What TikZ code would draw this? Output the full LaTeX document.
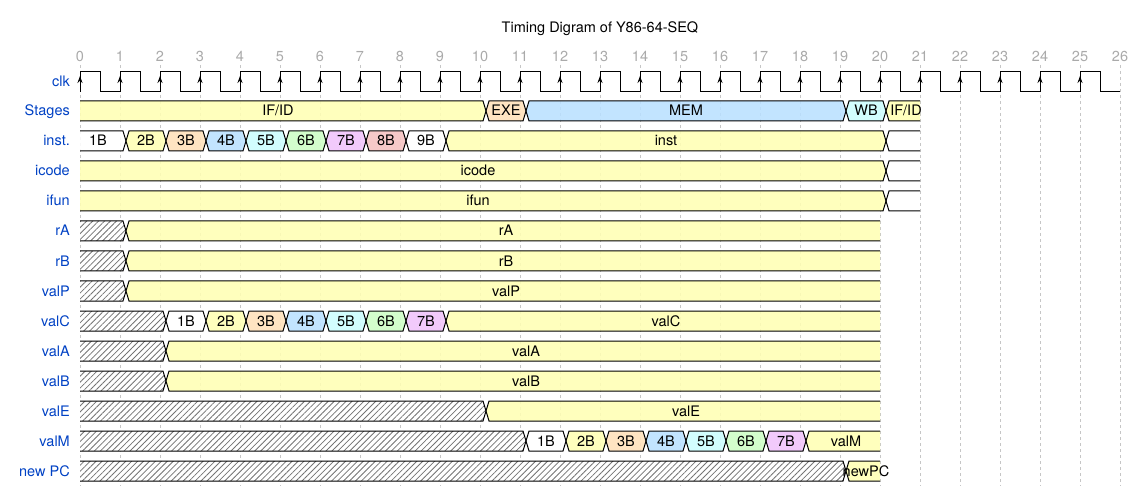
\documentclass[tikz,border=0pt]{standalone}
\usepackage{fontspec}
\setmainfont{TeX Gyre Heros}
\usetikzlibrary{arrows.meta,patterns.meta}

\definecolor{wyel}{HTML}{FFFFB4}
\definecolor{wora}{HTML}{FFE0B9}
\definecolor{wblu}{HTML}{B9E0FF}
\definecolor{wcya}{HTML}{CCFDFE}
\definecolor{wgre}{HTML}{CDFDC5}
\definecolor{wpur}{HTML}{F0C3FB}
\definecolor{wred}{HTML}{F5C2C0}
\definecolor{signame}{HTML}{0041C4}
\definecolor{tickgray}{HTML}{AAAAAA}

% row, from, to, colour (first brick, flat left end)
\newcommand{\wfirst}[6]{%
  \fill[#5,wfill] ({80+40*#3},{#2-10}) -- ({83+40*#4},{#2-10}) -- ({86+40*#4},#2) -- ({83+40*#4},{#2+10}) -- ({80+40*#3},{#2+10}) -- cycle;
  \draw[wline] ({80+40*#3},{#2-10}) -- ({83+40*#4},{#2-10}) -- ({86+40*#4},#2) -- ({83+40*#4},{#2+10}) -- ({80+40*#3},{#2+10});
  \node[wtext] (#1) at ({78+20*(#3+#4)},{#2+5}) {#6};
}
\newcommand{\wmid}[6]{%
  \draw[wline,fill=#5,wfill] ({89+40*#3},{#2-10}) -- ({83+40*#4},{#2-10}) -- ({86+40*#4},#2) -- ({83+40*#4},{#2+10}) -- ({89+40*#3},{#2+10}) -- ({86+40*#3},#2) -- cycle;
  \node[wtext] (#1) at ({86+20*(#3+#4)},{#2+5}) {#6};
}
\newcommand{\wlast}[6]{%
  \fill[#5,wfill] ({89+40*#3},{#2-10}) -- ({80+40*#4},{#2-10}) -- ({80+40*#4},{#2+10}) -- ({89+40*#3},{#2+10}) -- ({86+40*#3},#2) -- cycle;
  \draw[wline] ({80+40*#4},{#2-10}) -- ({89+40*#3},{#2-10}) -- ({86+40*#3},#2) -- ({89+40*#3},{#2+10}) -- ({80+40*#4},{#2+10});
  \node[wtext] (#1) at ({86+20*(#3+#4)},{#2+5}) {#6};
}
% empty white tail
\newcommand{\wtail}[3]{%
  \draw[wline] ({80+40*#3},{#1-10}) -- ({89+40*#2},{#1-10}) -- ({86+40*#2},#1) -- ({89+40*#2},{#1+10}) -- ({80+40*#3},{#1+10});
}
% hatched start, row, to
\newcommand{\whatch}[2]{%
  \fill[hatch] (80,{#1-10}) -- ({83+40*#2},{#1-10}) -- ({86+40*#2},#1) -- ({83+40*#2},{#1+10}) -- (80,{#1+10}) -- cycle;
  \draw[wline] (80,{#1-10}) -- ({83+40*#2},{#1-10}) -- ({86+40*#2},#1) -- ({83+40*#2},{#1+10}) -- (80,{#1+10});
}

\begin{document}
\begin{tikzpicture}[x=1pt,y=-1pt,
    wline/.style={draw=black,line width=1pt},
    wfill/.style={fill opacity=0.88},
    hatch/.style={preaction={fill=white},pattern={Lines[angle=45,distance=4.2pt,line width=0.8pt]},pattern color=black!55},
    wtext/.style={anchor=base,inner sep=0pt,font=\fontsize{14.5}{17}\selectfont},
    sigtext/.style={anchor=base east,inner sep=0pt,text=signame,font=\fontsize{14.5}{17}\selectfont},
    ticktext/.style={anchor=base,inner sep=0pt,text=tickgray,font=\fontsize{14.5}{17}\selectfont},
    gridline/.style={draw=gray!45,line width=0.6pt,dash pattern=on 3pt off 3pt}]

  \useasboundingbox (0,0) rectangle (1140,486);

  \node[wtext] (title) at (600,33) {Timing Digram of Y86-64-SEQ};

  % grid and tick numbers
  \foreach \k in {0,...,26} {
    \draw[gridline] ({80+40*\k},65) -- ({80+40*\k},486);
    \node[ticktext] (t\k) at ({80+40*\k},62) {\k};
  }

  % signal names
  \node[sigtext] (nclk) at (70,87) {clk};
  \node[sigtext] (nstages) at (70,116) {Stages};
  \node[sigtext] (ninst) at (70,146) {inst.};
  \node[sigtext] (nicode) at (70,176) {icode};
  \node[sigtext] (nifun) at (70,206) {ifun};
  \node[sigtext] (nra) at (70,236) {rA};
  \node[sigtext] (nrb) at (70,266) {rB};
  \node[sigtext] (nvalp) at (70,296) {valP};
  \node[sigtext] (nvalc) at (70,326) {valC};
  \node[sigtext] (nvala) at (70,356) {valA};
  \node[sigtext] (nvalb) at (70,386) {valB};
  \node[sigtext] (nvale) at (70,416) {valE};
  \node[sigtext] (nvalm) at (70,446) {valM};
  \node[sigtext] (nnewpc) at (70,476) {new PC};

  % clk
  \draw[wline] (80,92) foreach \k in {0,...,25} { -- ({80+40*\k},72) -- ({100+40*\k},72) -- ({100+40*\k},92) -- ({120+40*\k},92) };
  \foreach \k in {0,...,25}
    \draw[-{Stealth[length=7pt,width=5pt]},line width=1pt] ({80+40*\k},85) -- ({80+40*\k},76);

  % Stages
  \wfirst{sIF}{111}{0}{10}{wyel}{IF/ID}
  \wmid{sEXE}{111}{10}{11}{wora}{EXE}
  \wmid{sMEM}{111}{11}{19}{wblu}{MEM}
  \wmid{sWB}{111}{19}{20}{wcya}{WB}
  \begin{scope}
    \clip (880,90) rectangle (920,130);
    \wlast{sIFb}{111}{20}{21}{wyel}{IF/ID}
  \end{scope}

  % inst.
  \wfirst{i1}{141}{0}{1}{white}{1B}
  \wmid{i2}{141}{1}{2}{wyel}{2B}
  \wmid{i3}{141}{2}{3}{wora}{3B}
  \wmid{i4}{141}{3}{4}{wblu}{4B}
  \wmid{i5}{141}{4}{5}{wcya}{5B}
  \wmid{i6}{141}{5}{6}{wgre}{6B}
  \wmid{i7}{141}{6}{7}{wpur}{7B}
  \wmid{i8}{141}{7}{8}{wred}{8B}
  \wmid{i9}{141}{8}{9}{white}{9B}
  \wmid{iinst}{141}{9}{20}{wyel}{inst}
  \wtail{141}{20}{21}

  % icode, ifun
  \wfirst{icode}{171}{0}{20}{wyel}{icode}
  \wtail{171}{20}{21}
  \wfirst{ifun}{201}{0}{20}{wyel}{ifun}
  \wtail{201}{20}{21}

  % rA, rB, valP
  \whatch{231}{1}
  \wlast{ra}{231}{1}{20}{wyel}{rA}
  \whatch{261}{1}
  \wlast{rb}{261}{1}{20}{wyel}{rB}
  \whatch{291}{1}
  \wlast{valp}{291}{1}{20}{wyel}{valP}

  % valC
  \whatch{321}{2}
  \wmid{c1}{321}{2}{3}{white}{1B}
  \wmid{c2}{321}{3}{4}{wyel}{2B}
  \wmid{c3}{321}{4}{5}{wora}{3B}
  \wmid{c4}{321}{5}{6}{wblu}{4B}
  \wmid{c5}{321}{6}{7}{wcya}{5B}
  \wmid{c6}{321}{7}{8}{wgre}{6B}
  \wmid{c7}{321}{8}{9}{wpur}{7B}
  \wlast{valc}{321}{9}{20}{wyel}{valC}

  % valA, valB, valE
  \whatch{351}{2}
  \wlast{vala}{351}{2}{20}{wyel}{valA}
  \whatch{381}{2}
  \wlast{valb}{381}{2}{20}{wyel}{valB}
  \whatch{411}{10}
  \wlast{vale}{411}{10}{20}{wyel}{valE}

  % valM
  \whatch{441}{11}
  \wmid{m1}{441}{11}{12}{white}{1B}
  \wmid{m2}{441}{12}{13}{wyel}{2B}
  \wmid{m3}{441}{13}{14}{wora}{3B}
  \wmid{m4}{441}{14}{15}{wblu}{4B}
  \wmid{m5}{441}{15}{16}{wcya}{5B}
  \wmid{m6}{441}{16}{17}{wgre}{6B}
  \wmid{m7}{441}{17}{18}{wpur}{7B}
  \wlast{valm}{441}{18}{20}{wyel}{valM}

  % new PC
  \whatch{471}{19}
  \wlast{newpc}{471}{19}{20}{wyel}{newPC}

\end{tikzpicture}
\end{document}
